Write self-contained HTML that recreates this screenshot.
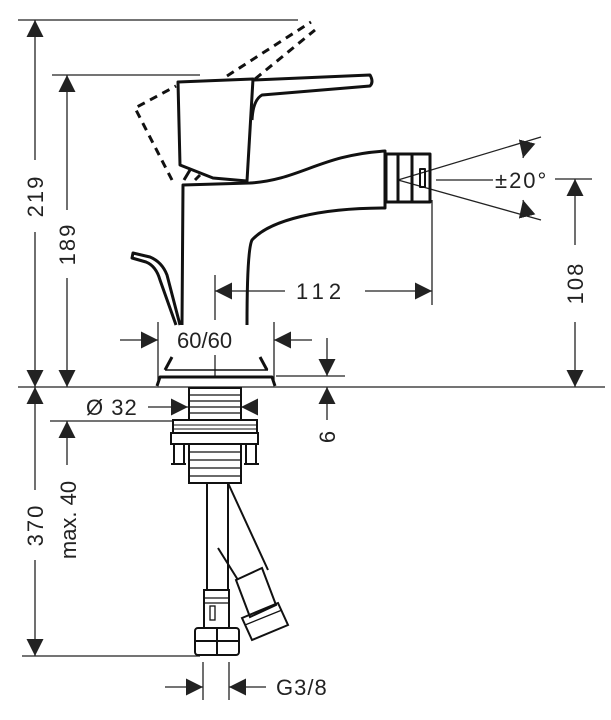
<!DOCTYPE html>
<html><head><meta charset="utf-8"><style>
html,body{margin:0;padding:0;background:#fff;}
svg{display:block;}
text{font-family:"Liberation Sans","DejaVu Sans",sans-serif;fill:#222;}
</style></head><body>
<svg width="611" height="720" viewBox="0 0 611 720" xmlns="http://www.w3.org/2000/svg">
<defs>
<marker id="a" viewBox="0 0 10 10" refX="10" refY="5" markerWidth="17" markerHeight="17" markerUnits="userSpaceOnUse" orient="auto-start-reverse"><path d="M0,0 L10,5 L0,10 Z" fill="#222"/></marker>
</defs>
<g stroke="#222" stroke-width="1.3" fill="none">
<line x1="18" y1="20" x2="298" y2="20"/>
<line x1="52" y1="75" x2="200" y2="75"/>
<line x1="18" y1="387" x2="605" y2="387"/>
<line x1="50" y1="421" x2="172" y2="421"/>
<line x1="22" y1="656" x2="200" y2="656"/>
<line x1="555" y1="179" x2="592" y2="179"/>
<line x1="276" y1="376" x2="345" y2="376"/>
<line x1="35" y1="20" x2="35" y2="160" marker-start="url(#a)"/>
<line x1="35" y1="232" x2="35" y2="387" marker-end="url(#a)"/>
<line x1="67" y1="75" x2="67" y2="210" marker-start="url(#a)"/>
<line x1="67" y1="278" x2="67" y2="387" marker-end="url(#a)"/>
<line x1="35" y1="387" x2="35" y2="490" marker-start="url(#a)"/>
<line x1="35" y1="560" x2="35" y2="656" marker-end="url(#a)"/>
<line x1="67" y1="421" x2="67" y2="465" marker-start="url(#a)"/>
<line x1="215" y1="275" x2="215" y2="320"/>
<line x1="432" y1="200" x2="432" y2="305"/>
<line x1="215" y1="291" x2="285" y2="291" marker-start="url(#a)"/>
<line x1="365" y1="291" x2="432" y2="291" marker-end="url(#a)"/>
<line x1="158" y1="322" x2="158" y2="380"/>
<line x1="274" y1="322" x2="274" y2="380"/>
<line x1="215" y1="355" x2="215" y2="377"/>
<line x1="120" y1="340" x2="158" y2="340" marker-end="url(#a)"/>
<line x1="312" y1="340" x2="274" y2="340" marker-end="url(#a)"/>
<line x1="327" y1="338" x2="327" y2="376" marker-end="url(#a)"/>
<line x1="327" y1="420" x2="327" y2="387" marker-end="url(#a)"/>
<line x1="575" y1="179" x2="575" y2="245" marker-start="url(#a)"/>
<line x1="575" y1="322" x2="575" y2="387" marker-end="url(#a)"/>
<line x1="398" y1="180" x2="541" y2="137"/>
<line x1="398" y1="180" x2="541" y2="220"/>
<line x1="436" y1="180" x2="493" y2="180"/>
<line x1="527" y1="142" x2="523" y2="158" marker-end="url(#a)"/>
<line x1="527" y1="216" x2="523" y2="200" marker-end="url(#a)"/>
<line x1="148" y1="407" x2="188" y2="407" marker-end="url(#a)"/>
<line x1="258" y1="407" x2="241" y2="407" marker-end="url(#a)"/>
<line x1="203" y1="662" x2="203" y2="700"/>
<line x1="229" y1="662" x2="229" y2="700"/>
<line x1="165" y1="687" x2="203" y2="687" marker-end="url(#a)"/>
<line x1="266" y1="687" x2="229" y2="687" marker-end="url(#a)"/>
</g>
<g stroke="#111" stroke-width="3" fill="none" stroke-linejoin="round">
<path d="M172,180 L135,108 L176,86 M227,76 L311,22 M255,79 L315,30" stroke-dasharray="8,6"/>
<path d="M178,82 L253,79 L247,181 L213,178 L180,165 Z"/>
<path d="M253,80 L370,75 Q374,82 370,86 L262,95 Q253,100 252,120"/>
<path d="M182,325 L183,185 L250,183 C300,180 320,155 385,151 L385,208 C320,208 270,220 252,240 Q247,250 247,325"/>
<path d="M184,180 L190,170 M195,180 L200,175"/>
<rect x="386" y="154" width="44" height="48"/>
<line x1="398" y1="154" x2="398" y2="202"/>
<line x1="412" y1="154" x2="412" y2="202"/>
<rect x="420" y="169" width="5" height="18" stroke-width="2"/>
<path d="M180,325 L167,275 Q162,262 150,257 L133,253 L132,258 L146,262 Q156,266 160,280 L176,325"/>
<path d="M172,357 L165,370 M260,357 L267,370"/>
<path d="M157,386 L160,377 L272,377 L275,386"/>
<line x1="165" y1="370" x2="268" y2="370" stroke-width="1.5"/>
</g>
<g stroke="#111" stroke-width="2" fill="none">
<rect x="189" y="388" width="52" height="32"/>
<path d="M189,395H241M189,401H241M189,407H241M189,413H241" stroke-width="1.3"/>
<rect x="173" y="420" width="84" height="13"/>
<path d="M173,425H257M173,429H257" stroke-width="1"/>
<rect x="171" y="433" width="87" height="11"/>
<rect x="189" y="444" width="52" height="39"/>
<path d="M189,452H241M189,460H241M189,468H241M189,476H241" stroke-width="1.3"/>
<rect x="174" y="444" width="10" height="20"/>
<rect x="246" y="444" width="10" height="20"/>
<path d="M171,464H186M244,464H259"/>
<path d="M207,483 V590 M228,483 V590"/>
<path d="M228,483 L268,570 M218,548 L238,580"/>
<rect x="204" y="590" width="25" height="38"/>
<path d="M204,598H229M204,603H229" stroke-width="1.3"/>
<rect x="210" y="606" width="5" height="14" stroke-width="1.3"/>
<rect x="195" y="628" width="44" height="27" rx="3"/>
<line x1="217" y1="628" x2="217" y2="655"/>
<line x1="195" y1="641" x2="239" y2="641"/>
<path d="M236,580 L262,568 L276,605 L250,617 Z"/>
<path d="M242,618 L278,603 L288,625 L252,640 Z"/>
<path d="M245,625 L282,610" stroke-width="1.3"/>
</g>
<g font-size="22">
<text x="495" y="188" letter-spacing="2">±20°</text>
<text x="296" y="299" letter-spacing="5">112</text>
<text x="177" y="348">60/60</text>
<text x="86" y="415" letter-spacing="1">Ø 32</text>
<text x="276" y="695" letter-spacing="1">G3/8</text>
<text transform="translate(43,196) rotate(-90)" text-anchor="middle" letter-spacing="2">219</text>
<text transform="translate(75,244) rotate(-90)" text-anchor="middle" letter-spacing="2">189</text>
<text transform="translate(43,525) rotate(-90)" text-anchor="middle" letter-spacing="2">370</text>
<text transform="translate(76,520) rotate(-90)" text-anchor="middle">max. 40</text>
<text transform="translate(583,283) rotate(-90)" text-anchor="middle" letter-spacing="2">108</text>
<text transform="translate(335,437) rotate(-90)" text-anchor="middle">6</text>
</g>
</svg>
</body></html>
